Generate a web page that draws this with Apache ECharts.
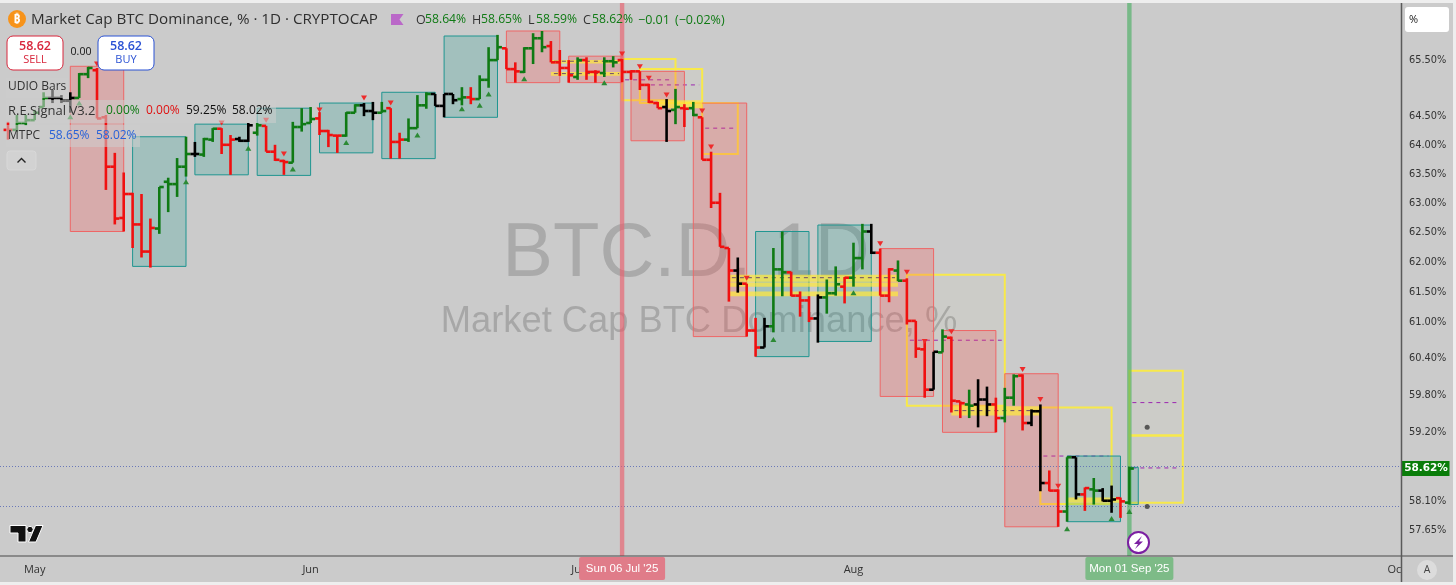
<!DOCTYPE html>
<html><head><meta charset="utf-8"><style>html,body{margin:0;padding:0;background:#eee}#c{width:1456px;height:585px}</style>
<script src="https://cdn.jsdelivr.net/npm/echarts@6/dist/echarts.min.js"></script></head><body><div id="c"></div>
<script>
const firstBar='2025-04-28';
const opens=[64.27,64.27,64.39,
64.44,64.67,64.83,64.83,64.78,64.83,65.25,65.32,64.49,63.63,62.75,63.16,62.64,62.18,62.57,63.37,63.33,63.63,63.85,63.84,64.10,64.29,64.01,64.11,64.08,64.22,64.34,63.89,63.73,63.70,64.32,
64.39,64.47,64.25,64.17,64.17,64.57,64.70,64.60,64.57,64.65,64.06,64.10,64.30,64.70,64.90,64.69,64.90,64.81,64.84,64.81,65.15,65.50,65.71,65.34,65.29,65.71,65.89,65.75,65.46,65.36,
65.20,65.50,65.29,65.27,65.48,65.50,65.29,65.30,65.06,64.74,64.67,64.62,64.65,64.65,64.49,63.75,63.01,62.24,61.86,61.64,60.86,60.58,60.93,61.88,61.83,61.44,61.36,61.06,61.41,61.48,61.59,
61.74,62.07,62.52,62.16,61.44,61.86,61.69,61.02,60.55,59.89,60.50,60.74,59.70,59.65,59.65,59.73,59.65,59.43,59.76,60.12,59.35,59.54,58.39,58.27,57.94,58.80,58.21,58.29,58.27,58.11,58.15,
58.08];
const highs=[64.41,64.53,64.53,
64.62,64.93,64.97,64.88,64.93,65.27,65.38,65.36,64.53,63.87,63.53,63.18,63.16,62.74,63.28,63.44,63.78,64.15,64.06,64.13,64.30,64.30,64.18,64.15,64.39,64.39,64.34,64.01,63.75,64.41,64.65,
64.67,64.58,64.27,64.18,64.58,64.72,64.74,64.76,64.76,64.65,64.22,64.47,64.88,64.93,64.90,64.90,64.90,65.02,65.02,65.23,65.73,65.95,65.71,65.46,65.73,65.98,66.02,65.84,65.68,65.50,
65.55,65.55,65.32,65.55,65.57,65.52,65.32,65.30,65.08,64.76,64.81,64.99,64.72,64.76,64.49,63.89,63.18,62.24,62.08,61.64,61.07,61.07,62.24,62.52,61.84,61.51,61.43,61.46,61.71,61.93,61.75,
62.33,62.65,62.65,62.23,61.90,62.03,61.73,61.02,60.68,60.51,60.88,60.76,59.70,59.89,60.06,59.94,59.76,59.92,60.14,60.14,59.57,59.65,58.59,58.29,58.80,58.80,58.32,58.47,58.31,58.35,58.16,
58.65];
const lows=[64.10,64.24,64.35,
64.44,64.67,64.74,64.74,64.57,64.83,65.18,64.47,63.23,62.64,62.52,62.24,62.08,61.91,62.48,62.85,63.11,63.46,63.80,63.80,64.06,63.85,63.49,64.06,64.06,64.17,63.89,63.73,63.49,63.70,64.24,
64.39,64.18,63.97,63.87,64.15,64.57,64.51,64.44,64.57,63.77,63.77,64.06,64.30,64.64,64.69,64.49,64.72,64.70,64.72,64.81,65.01,65.50,65.34,65.10,65.27,65.43,65.64,65.46,65.22,65.10,
65.15,65.15,65.10,65.20,65.37,65.11,65.15,64.97,64.74,64.65,64.06,64.37,64.32,64.51,63.75,62.92,62.26,61.34,61.49,60.76,60.43,60.58,60.83,61.43,61.43,61.09,61.00,60.66,61.14,61.44,61.31,
61.59,61.88,62.14,61.44,61.33,61.68,60.96,60.41,59.76,59.89,60.50,59.52,59.43,59.43,59.28,59.46,59.20,59.36,59.63,59.23,59.30,58.26,58.26,57.70,57.78,58.13,57.95,58.05,58.10,57.92,57.84,
58.05];
const closes=[64.27,64.39,64.44,
64.57,64.83,64.83,64.78,64.83,65.25,65.36,64.47,63.63,62.74,63.16,62.64,62.18,62.58,63.28,63.33,63.63,63.85,63.85,64.11,64.29,64.01,64.10,64.08,64.35,64.35,63.89,63.75,63.71,64.32,64.37,
64.46,64.25,64.18,64.17,64.57,64.70,64.60,64.57,64.60,64.06,64.10,64.30,64.70,64.90,64.69,64.90,64.79,64.84,64.81,65.15,65.50,65.73,65.34,65.30,65.71,65.89,65.73,65.46,65.36,65.23,
65.50,65.29,65.29,65.48,65.46,65.29,65.30,65.06,64.76,64.65,64.60,64.67,64.64,64.53,63.75,63.01,62.26,61.86,61.64,60.86,60.58,60.93,61.88,61.83,61.44,61.36,61.06,61.41,61.48,61.63,61.74,
62.07,62.52,62.16,61.44,61.88,61.69,61.02,60.56,59.89,60.51,60.76,59.71,59.67,59.63,59.73,59.65,59.43,59.76,60.11,59.35,59.54,58.39,58.27,57.94,58.80,58.21,58.31,58.27,58.11,58.13,58.10,
58.62];
const barColors=('rgg'+
'ggkkkggrrrrrrrggggkggrrkkgrrrgg'+
'grrrggkkgrrgggkkkgrgggrrgggrrr'+
'grrggrrrrrkgrgrrrrkrrkggrrrkggr'+
'ggkrrgrrrkgrrgkkrggrkkrrgkrgkkr'+
'g').split('');

const sellBoxes={start:['2025-05-05','2025-06-23','2025-06-30','2025-07-07','2025-07-14','2025-08-04','2025-08-11','2025-08-18'],
 end:['2025-05-11','2025-06-29','2025-07-06','2025-07-13','2025-07-20','2025-08-10','2025-08-17','2025-08-24'],
 top:[65.39,66.02,65.57,65.30,64.74,62.23,60.86,60.15],
 bottom:[62.52,65.10,65.10,64.08,60.76,59.78,59.20,57.70]};
const buyBoxes={start:['2025-05-12','2025-05-19','2025-05-26','2025-06-02','2025-06-09','2025-06-16','2025-07-21','2025-07-28','2025-08-25','2025-09-01'],
 end:['2025-05-18','2025-05-25','2025-06-01','2025-06-08','2025-06-15','2025-06-22','2025-07-27','2025-08-03','2025-08-31','2025-09-02'],
 top:[64.15,64.37,64.65,64.74,64.93,65.93,62.52,62.63,58.82,58.64],
 bottom:[61.93,63.49,63.48,63.87,63.77,64.49,60.43,60.68,57.78,58.05]};
const targetBoxes={start:['2025-07-06','2025-07-08','2025-07-15','2025-08-07','2025-08-22','2025-09-01','2025-09-01'],
 end:['2025-07-12','2025-07-15','2025-07-19','2025-08-18','2025-08-30','2025-09-07','2025-09-07'],
 top:[65.52,65.34,64.74,61.79,59.60,60.20,59.15],
 bottom:[64.79,64.74,63.85,59.63,58.06,59.15,58.08],
 mid:[65.15,65.06,64.30,60.70,58.82,59.68,58.63]};
const levelBands={start:['2025-06-28','2025-06-28','2025-07-10','2025-07-18','2025-07-18','2025-07-18','2025-08-12','2025-08-25'],
 end:['2025-07-06','2025-07-06','2025-07-15','2025-08-06','2025-08-06','2025-08-06','2025-08-22','2025-08-31'],
 top:[65.50,65.29,64.79,61.79,61.66,61.51,59.62,58.16],
 bottom:[65.44,65.22,64.65,61.67,61.59,61.43,59.47,58.08],
 mid:[65.48,65.26,null,61.74,null,null,59.55,null]};
const sellDates=['05-08','05-22','05-27','05-29','06-02','06-07','06-10','07-06','07-08','07-09','07-11','07-15','07-16','07-20','08-04','08-07','08-09','08-12','08-20','08-22','08-24'];
const sellPrices=[65.43,64.39,64.44,63.85,64.62,64.83,64.74,65.61,65.38,65.18,64.88,64.60,63.97,61.73,62.31,61.83,60.68,60.84,60.22,59.73,58.34];
const buyDates=['05-05','05-06','05-18','05-25','05-30','06-05','06-13','06-18','06-20','06-21','06-25','07-04','07-23','08-01','08-25','08-30','09-01'];
const buyPrices=[64.50,64.74,63.37,63.95,63.59,64.05,64.18,64.64,64.70,64.90,65.17,65.10,60.71,61.49,57.67,57.83,57.94];
const dotDates=['2025-09-03','2025-09-03'];
const dotPrices=[59.28,58.02];
const mtpcLevels=[58.65,58.02];
const lastPrice=58.62;
const priceTicks=[65.5,64.5,64,63.5,63,62.5,62,61.5,61,60.4,59.8,59.2,58.1,57.65];
const monthTicks=['2025-05-01','2025-06-01','2025-07-01','2025-08-01','2025-09-01','2025-10-01'];
const monthNames=['Jan','Feb','Mar','Apr','May','Jun','Jul','Aug','Sep','Oct','Nov','Dec'];
const cursorDates=['2025-07-06','2025-09-01'];
const cursorTexts=["Sun 06 Jul '25","Mon 01 Sep '25"];

const DAY=864e5, D=s=>Date.parse(s+'T00:00:00Z'), Y=s=>D('2025-'+s);
const dateOf=i=>D(firstBar)+i*DAY;
const xMin=D('2025-04-27')+0.1*DAY, xMax=D('2025-07-06')+87.52*DAY;
const boxRows=b=>b.start.map((s,i)=>[D(s),D(b.end[i]),b.top[i],b.bottom[i]]);
const COL={r:'#f01010',g:'#0f7a14',k:'#000000'};
const FONT='"Open Sans","Noto Sans",sans-serif';

function boxSeries(rows,z,style,mids,midColor){
 return {type:'custom',z,silent:true,animation:false,data:rows,encode:{x:[0,1],y:[2,3]},
  renderItem(p,api){
   const a=api.coord([api.value(0),api.value(2)]),b=api.coord([api.value(1),api.value(3)]);
   const kids=[{type:'rect',shape:{x:a[0],y:a[1],width:b[0]-a[0],height:b[1]-a[1]},style}];
   const m=mids&&mids[p.dataIndex];
   if(m!=null){const q=api.coord([api.value(0),m]);
    kids.push({type:'line',shape:{x1:a[0]+3,y1:q[1],x2:b[0]-3,y2:q[1]},style:{stroke:midColor||'#9c27b0',lineWidth:1,lineDash:[4,4]}});}
   return {type:'group',children:kids};
  }};
}
const t=(x,y,text,fill,size,weight,align)=>({type:'text',z:101,silent:true,x,y,style:{text,fill,font:(weight||'normal')+' '+(size||12)+'px '+FONT,textAlign:align||'left',textVerticalAlign:'middle'}});
const bd=(x,y,w,h)=>({type:'rect',z:100,silent:true,shape:{x,y,width:w,height:h},style:{fill:'rgba(205,205,205,0.55)'}});
const btn=(x,c,p,l)=>[{type:'rect',z:100,silent:true,shape:{x,y:36,width:56,height:34,r:6},style:{fill:'#fff',stroke:c,lineWidth:1}},t(x+28,46,p,c,12.5,'600','center'),t(x+28,60,l,c,11,'normal','center')];
const line=(x1,y1,x2,y2,c,w)=>({type:'line',z:99,silent:true,shape:{x1,y1,x2,y2},style:{stroke:c,lineWidth:w}});
const graphics=[
 {type:'rect',z:-5,silent:true,shape:{x:0,y:3,width:1453,height:579},style:{fill:'#cbcbcb'}},
 {type:'text',z:1,silent:true,x:686,y:255,style:{text:'BTC.D, 1D',fill:'rgba(125,125,125,0.42)',font:'normal 76px "Liberation Sans",sans-serif',textAlign:'center',textVerticalAlign:'middle'}},
 {type:'text',z:1,silent:true,x:699,y:322,style:{text:'Market Cap BTC Dominance, %',fill:'rgba(125,125,125,0.45)',font:'normal 36.3px "Liberation Sans",sans-serif',textAlign:'center',textVerticalAlign:'middle'}},
 {type:'rect',z:98,silent:true,shape:{x:1402,y:556.5,width:51,height:25.5},style:{fill:'#cbcbcb'}},
 line(0,556,1453,556,'#4a4a4a',1.2),line(1401.5,3,1401.5,582,'#5a5a5a',1.5),
 {type:'circle',z:100,silent:true,shape:{cx:17,cy:19,r:9},style:{fill:'#f7931a'}},
 t(17,19.5,'₿','#fff',12,'bold','center'),
 t(31,20,'Market Cap BTC Dominance, % · 1D · CRYPTOCAP','#2f2f2f',15.2),
 {type:'polygon',z:100,silent:true,shape:{points:[[391,14],[403.5,14],[399.5,19.5],[403.5,25],[391,25]]},style:{fill:'#ba68c8'}},
 t(416,20,'O','#333',12.5),t(425,20,'58.64%','#0f7a14',12.2),
 t(472,20,'H','#333',12.5),t(481,20,'58.65%','#0f7a14',12.2),
 t(528,20,'L','#333',12.5),t(536,20,'58.59%','#0f7a14',12.2),
 t(583,20,'C','#333',12.5),t(592,20,'58.62%','#0f7a14',12.2),
 t(638,20,'−0.01','#0f7a14',12.5),t(675,20,'(−0.02%)','#0f7a14',12.5),
 ...btn(7,'#d8263c','58.62','SELL'),...btn(98,'#2b52d4','58.62','BUY'),
 t(81,52.5,'0.00','#111',10.5,'normal','center'),
 bd(6,78,62,20),bd(6,100,270,23),bd(6,125,134,22),
 t(8,87,'UDIO Bars','#333',12),
 t(8,111,'R.E.Signal V3.2','#333',13),t(106,111,'0.00%','#0f7a14',12),t(146,111,'0.00%','#e01010',12),t(186,111,'59.25%','#111',12),t(232,111,'58.02%','#111',12),
 t(8,135.5,'MTPC','#333',12),t(49,135.5,'58.65%','#2962d8',12),t(96,135.5,'58.02%','#2962d8',12),
 {type:'rect',z:100,silent:true,shape:{x:7,y:151,width:29,height:19,r:3},style:{fill:'rgba(215,215,215,0.6)',stroke:'#d8d8d8',lineWidth:1}},
 {type:'polyline',z:101,silent:true,shape:{points:[[17.5,162.5],[21.5,158.5],[25.5,162.5]]},style:{stroke:'#222',lineWidth:1.4,fill:'none'}},
 {type:'polygon',z:100,silent:true,shape:{points:[[10,525.5],[26,525.5],[26,542],[18,542],[18,533],[10,533]]},style:{fill:'#111',stroke:'#fff',lineWidth:1}},
 {type:'circle',z:100,silent:true,shape:{cx:30,cy:529.5,r:3.2},style:{fill:'#111',stroke:'#fff',lineWidth:1}},
 {type:'polygon',z:100,silent:true,shape:{points:[[35.5,525.5],[43,525.5],[36,542],[28.5,542]]},style:{fill:'#111',stroke:'#fff',lineWidth:1}},
 {type:'circle',z:100,silent:true,shape:{cx:1138.5,cy:542.5,r:10.5},style:{fill:'#fff',stroke:'#7b1fa2',lineWidth:2}},
 {type:'polygon',z:101,silent:true,shape:{points:[[1142,536],[1134,544],[1138,544],[1135,549],[1143,541.5],[1139,541.5]]},style:{fill:'#7b1fa2'}},
 {type:'rect',z:100,silent:true,shape:{x:1405,y:7,width:44,height:25,r:3},style:{fill:'#fff'}},
 t(1409,20,'%','#222',11),
 {type:'circle',z:100,silent:true,shape:{cx:1427,cy:570,r:10},style:{fill:'#dcdcdc'}},
 t(1427,570,'A','#444',10.5,'normal','center')
];

const option={
 animation:false,backgroundColor:'#eeeeee',
 grid:{left:0,right:55,top:3,bottom:29,containLabel:false},
 xAxis:{type:'value',min:xMin,max:xMax,axisLine:{show:false},axisTick:{show:false},splitLine:{show:false},
  axisLabel:{customValues:monthTicks.map(D),hideOverlap:false,margin:8,color:'#333',fontFamily:FONT,fontSize:11,fontWeight:500,
   formatter:v=>monthNames[new Date(v).getUTCMonth()]}},
 yAxis:{type:'log',logBase:10,position:'right',min:57.244,max:66.524,axisLine:{show:false},axisTick:{show:false},splitLine:{show:false},minorTick:{show:false},minorSplitLine:{show:false},
  axisLabel:{customValues:priceTicks,margin:8,color:'#333',fontFamily:'"DejaVu Sans",sans-serif',fontSize:9.8,formatter:v=>v.toFixed(2)+'%'}},
 graphic:{elements:graphics},
 series:[
  boxSeries(boxRows(targetBoxes),3,{fill:'rgba(255,235,59,0.02)',stroke:'#f8e94a',lineWidth:2},targetBoxes.mid),
  boxSeries(boxRows(sellBoxes),4,{fill:'rgba(255,70,70,0.24)',stroke:'#ee6666',lineWidth:1}),
  boxSeries(boxRows(buyBoxes),4,{fill:'rgba(0,150,136,0.2)',stroke:'#1f9590',lineWidth:1}),
  boxSeries(boxRows(levelBands),5,{fill:'rgba(255,232,60,0.72)',stroke:'none'},levelBands.mid,'#6a4a6a'),
  {type:'line',z:5,silent:true,data:[],markLine:{silent:true,symbol:'none',label:{show:false},animation:false,
    lineStyle:{type:[1,2],color:'#5a6bb5',width:1,opacity:0.85},data:mtpcLevels.map(v=>({yAxis:v}))}},
  {type:'custom',z:5,silent:true,data:cursorDates.map(d=>[D(d),lastPrice]),encode:{x:0,y:1},
   renderItem(p,api){
    const x=api.coord([api.value(0),lastPrice])[0],i=p.dataIndex,g=p.coordSys;
    const band=i?'rgba(70,175,95,0.62)':'rgba(236,90,105,0.62)',tag=i?'#7dbb87':'#e07c89';
    const w=i?88:86;
    return {type:'group',children:[
     {type:'rect',shape:{x:x-2.2,y:g.y,width:4.4,height:g.height},style:{fill:band}},
     {type:'rect',shape:{x:x-w/2,y:g.y+g.height+1,width:w,height:23,r:2},style:{fill:tag}},
     {type:'text',x,y:g.y+g.height+13,style:{text:cursorTexts[i],fill:'#fff',font:'normal 11.5px "Liberation Sans",sans-serif',textAlign:'center',textVerticalAlign:'middle'}}
    ]};
   }},
  {type:'custom',name:'BTC.D',z:6,silent:true,encode:{x:0,y:[1,2,3,4]},
   data:opens.map((o,i)=>[dateOf(i),o,highs[i],lows[i],closes[i]]),
   renderItem(p,api){
    const tt=api.value(0),c=COL[barColors[p.dataIndex]],w=2.6;
    const po=api.coord([tt,api.value(1)]),ph=api.coord([tt,api.value(2)]),pl=api.coord([tt,api.value(3)]),pc=api.coord([tt,api.value(4)]);
    const hw=(api.coord([tt+DAY,api.value(1)])[0]-po[0])/2;
    return {type:'group',children:[
     {type:'line',shape:{x1:po[0],y1:ph[1],x2:po[0],y2:pl[1]},style:{stroke:c,lineWidth:w}},
     {type:'line',shape:{x1:po[0]-hw,y1:po[1],x2:po[0],y2:po[1]},style:{stroke:c,lineWidth:w}},
     {type:'line',shape:{x1:po[0],y1:pc[1],x2:po[0]+hw,y2:pc[1]},style:{stroke:c,lineWidth:w}}
    ]};
   }},
  {type:'custom',z:7,silent:true,encode:{x:0,y:1},data:sellDates.map((d,i)=>[Y(d),sellPrices[i]]),
   renderItem(p,api){const q=api.coord([api.value(0),api.value(1)]);
    return {type:'polygon',shape:{points:[[q[0]-3,q[1]-2.5],[q[0]+3,q[1]-2.5],[q[0],q[1]+2.5]]},style:{fill:'#ee2b2b'}};}},
  {type:'custom',z:7,silent:true,encode:{x:0,y:1},data:buyDates.map((d,i)=>[Y(d),buyPrices[i]]),
   renderItem(p,api){const q=api.coord([api.value(0),api.value(1)]);
    return {type:'polygon',shape:{points:[[q[0]-3,q[1]+2.5],[q[0]+3,q[1]+2.5],[q[0],q[1]-2.5]]},style:{fill:'#2c8a35'}};}},
  {type:'scatter',z:7,silent:true,symbolSize:5,itemStyle:{color:'#3a3a3a'},data:dotDates.map((d,i)=>[D(d),dotPrices[i]])},
  {type:'custom',z:9,silent:true,clip:false,encode:{x:0,y:1},data:[[xMax,lastPrice]],
   renderItem(p,api){const q=api.coord([api.value(0),api.value(1)]);
    return {type:'group',children:[
     {type:'rect',shape:{x:q[0]+0.5,y:q[1]-7.5,width:48,height:15},style:{fill:'#0a7d0a'}},
     {type:'text',x:q[0]+25,y:q[1],style:{text:lastPrice.toFixed(2)+'%',fill:'#fff',font:'bold 10.5px "DejaVu Sans",sans-serif',textAlign:'center',textVerticalAlign:'middle'}}
    ]};}}
 ]
};
const chart=echarts.init(document.getElementById('c'),null,{renderer:'canvas',width:1456,height:585});
chart.setOption(option);
</script></body></html>
